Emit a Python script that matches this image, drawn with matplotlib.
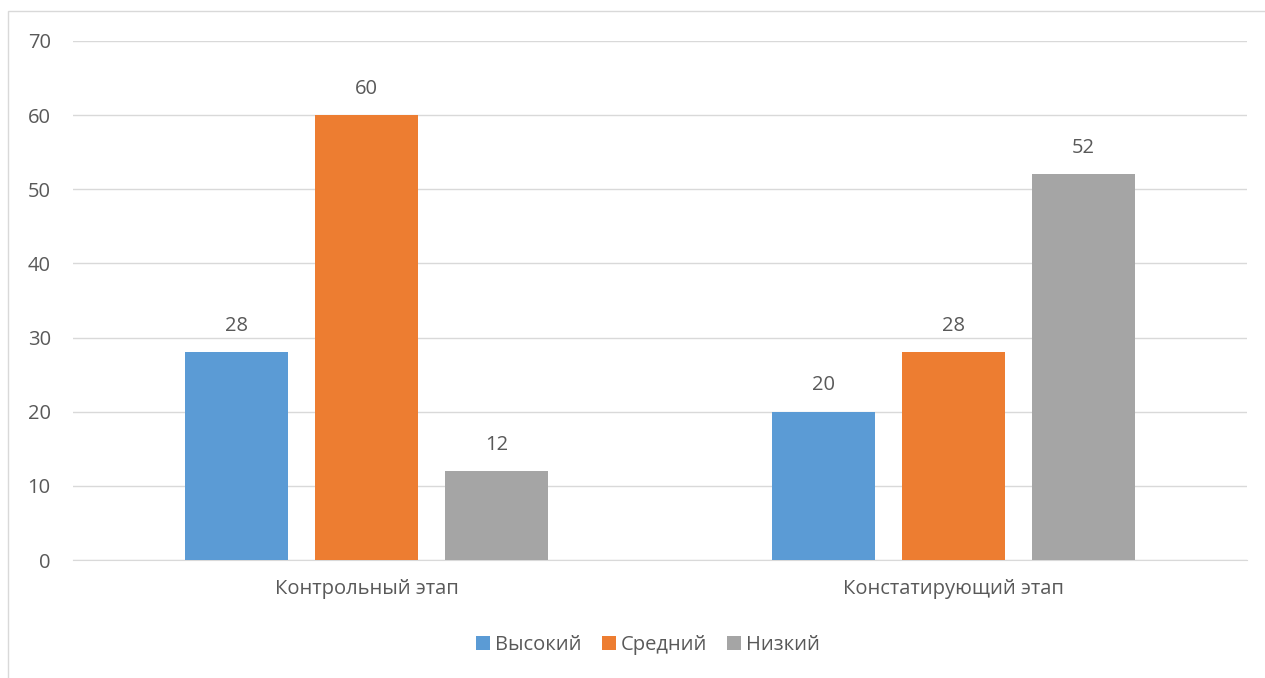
import matplotlib
matplotlib.use("Agg")
import matplotlib.pyplot as plt
from matplotlib.patches import Rectangle
import numpy as np

categories = ["Контрольный этап", "Констатирующий этап"]
series_names = ["Высокий", "Средний", "Низкий"]
vysokiy = [28, 20]
sredniy = [60, 28]
nizkiy = [12, 52]
colors = ["#5B9BD5", "#ED7D31", "#A5A5A5"]
yticks = [0, 10, 20, 30, 40, 50, 60, 70]

plt.rcParams['font.family'] = ['Open Sans', 'DejaVu Sans']
TXT = "#595959"
FS = 14.5

fig = plt.figure(figsize=(12.65, 6.78), dpi=100)
W, H = 1265, 678
# chart border (left & top visible)
fig.patches.append(Rectangle((8 / W, -0.01), 1.1, (678 - 11) / H + 0.01, transform=fig.transFigure,
                             fill=False, edgecolor="#D9D9D9", linewidth=1.0))

ax = fig.add_axes([73 / W, 1 - 560 / H, (1247 - 73) / W, (560 - 41) / H])
x = np.arange(len(categories))
width = 0.174
step = 0.2215
data = [vysokiy, sredniy, nizkiy]
for i, (vals, name, c) in enumerate(zip(data, series_names, colors)):
    bars = ax.bar(x + (i - 1) * step, vals, width, color=c, label=name, zorder=3)
    for b, v in zip(bars, vals):
        ax.annotate(str(v), (b.get_x() + b.get_width() / 2, v), xytext=(0, 19),
                    textcoords="offset points", ha="center", va="center",
                    fontsize=FS, color=TXT)

ax.set_xlim(-0.5, 1.5)
ax.set_ylim(0, 70)
ax.set_yticks(yticks)
ax.set_xticks(x)
ax.set_xticklabels(categories)
ax.grid(axis="y", color="#D9D9D9", linewidth=1.0, zorder=0)
for s in ["top", "right", "left"]:
    ax.spines[s].set_visible(False)
ax.spines["bottom"].set_color("#D9D9D9")
ax.tick_params(axis="both", length=0, labelsize=FS, labelcolor=TXT)
ax.tick_params(axis="y", pad=16)
ax.tick_params(axis="x", pad=14)

leg = fig.legend(loc="center", bbox_to_anchor=(648 / W, 1 - 645 / H), ncol=3, frameon=False,
                 fontsize=FS, handlelength=0.7, handleheight=0.7, handletextpad=0.25,
                 columnspacing=1.0)
for t in leg.get_texts():
    t.set_color(TXT)

fig.savefig("out.png", dpi=100)
